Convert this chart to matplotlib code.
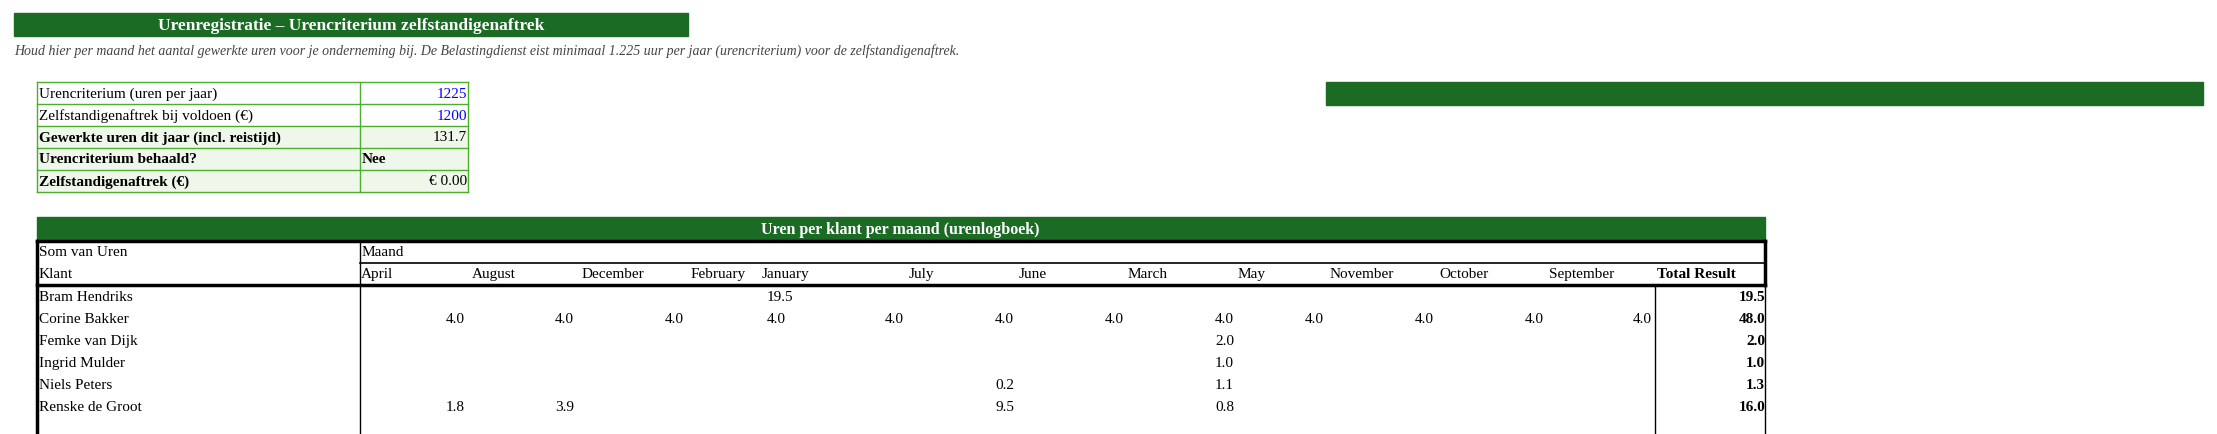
import matplotlib
matplotlib.use('Agg')
import matplotlib.pyplot as plt
from matplotlib.patches import Rectangle

W, H = 2217, 435
GREEN = '#1b6b25'
BORDER = '#4cae2f'
LIGHT = '#eef7ea'
FONT = 'Liberation Serif'

summary_labels = ['Urencriterium (uren per jaar)', 'Zelfstandigenaftrek bij voldoen (€)',
                  'Gewerkte uren dit jaar (incl. reistijd)', 'Urencriterium behaald?',
                  'Zelfstandigenaftrek (€)']
summary_values = ['1225', '1200', '131.7', 'Nee', '€ 0.00']

months = ['April', 'August', 'December', 'February', 'January', 'July', 'June',
          'March', 'May', 'November', 'October', 'September']
clients = ['Bram Hendriks', 'Corine Bakker', 'Femke van Dijk', 'Ingrid Mulder',
           'Niels Peters', 'Renske de Groot']
# values per client as (slot, value) as shown in the pivot
cell_values = [
    [(3, 19.5)],
    [(0, 4.0), (1, 4.0), (2, 4.0), (3, 4.0), (4, 4.0), (5, 4.0), (6, 4.0),
     (7, 4.0), (8, 4.0), (9, 4.0), (10, 4.0), (11, 4.0)],
    [(7, 2.0)],
    [(7, 1.0)],
    [(5, 0.2), (7, 1.1)],
    [(0, 1.8), (1, 3.9), (5, 9.5), (7, 0.8)],
]
totals = [19.5, 48.0, 2.0, 1.0, 1.3, 16.0]

fig = plt.figure(figsize=(W / 100, H / 100), dpi=100)
ax = fig.add_axes([0, 0, 1, 1])
ax.set_xlim(0, W)
ax.set_ylim(H, 0)
ax.axis('off')

fs = 11
def txt(x, y, s, **kw):
    kw.setdefault('fontsize', fs)
    kw.setdefault('family', FONT)
    kw.setdefault('va', 'center')
    ax.text(x, y, s, **kw)

# title
ax.add_patch(Rectangle((14, 14), 674, 23, color=GREEN))
txt(351, 26, 'Urenregistratie – Urencriterium zelfstandigenaftrek', color='white',
    weight='bold', ha='center', fontsize=12.5)
txt(14, 51, 'Houd hier per maand het aantal gewerkte uren voor je onderneming bij. '
    'De Belastingdienst eist minimaal 1.225 uur per jaar (urencriterium) voor de zelfstandigenaftrek.',
    style='italic', color='#444444', fontsize=10)

# summary table
ax.add_patch(Rectangle((1326, 83), 877, 23, color=GREEN))
top, rh = 83, 22
for i, (lab, val) in enumerate(zip(summary_labels, summary_values)):
    y0 = top + i * rh
    bold = i >= 2
    if bold:
        ax.add_patch(Rectangle((37, y0), 431, rh, color=LIGHT, zorder=0))
    txt(39, y0 + rh / 2, lab, weight='bold' if bold else 'normal')
    if val == 'Nee':
        txt(362, y0 + rh / 2, val, weight='bold')
    else:
        txt(467, y0 + rh / 2, val, ha='right', color='blue' if i < 2 else 'black')
for i in range(6):
    ax.plot([37, 468], [top + i * rh] * 2, color=BORDER, lw=1)
for x in (37, 360, 468):
    ax.plot([x, x], [top, top + 5 * rh], color=BORDER, lw=1)

# pivot table
ax.add_patch(Rectangle((37, 218), 1728, 24, color=GREEN))
txt(900, 230, 'Uren per klant per maand (urenlogboek)', color='white', weight='bold',
    ha='center', fontsize=11.5)
ax.plot([37, 1765], [242, 242], color='black', lw=2.5)
ax.plot([360, 1765], [264, 264], color='black', lw=1.2)
ax.plot([37, 1765], [286, 286], color='black', lw=2.5)
ax.plot([37, 37], [242, H], color='black', lw=2.5)
ax.plot([1765, 1765], [242, 286], color='black', lw=2.5)
ax.plot([1765, 1765], [286, H], color='black', lw=1)
ax.plot([360, 360], [242, H], color='black', lw=1)
ax.plot([1655, 1655], [286, H], color='black', lw=1)

txt(39, 253, 'Som van Uren')
txt(362, 253, 'Maand')
txt(39, 275, 'Klant')
month_x = [361, 494, 613, 718, 785, 921, 1033, 1148, 1252, 1362, 1464, 1582]
for m, x in zip(months, month_x):
    txt(x, 275, m, ha='left' if m == 'April' else 'center')
txt(1657, 275, 'Total Result', weight='bold')

slot_x = [446, 555, 665, 767, 885, 995, 1105, 1215, 1305, 1415, 1525, 1652]
for r, (name, vals, tot) in enumerate(zip(clients, cell_values, totals)):
    y = 298 + r * 22
    txt(39, y, name)
    for slot, v in vals:
        if slot == 11:
            txt(slot_x[slot], y, f'{v:.1f}', ha='right')
        else:
            txt(slot_x[slot], y, f'{v:.1f}')
    txt(1765, y, f'{tot:.1f}', ha='right', weight='bold')

fig.savefig('out.png', dpi=100)
